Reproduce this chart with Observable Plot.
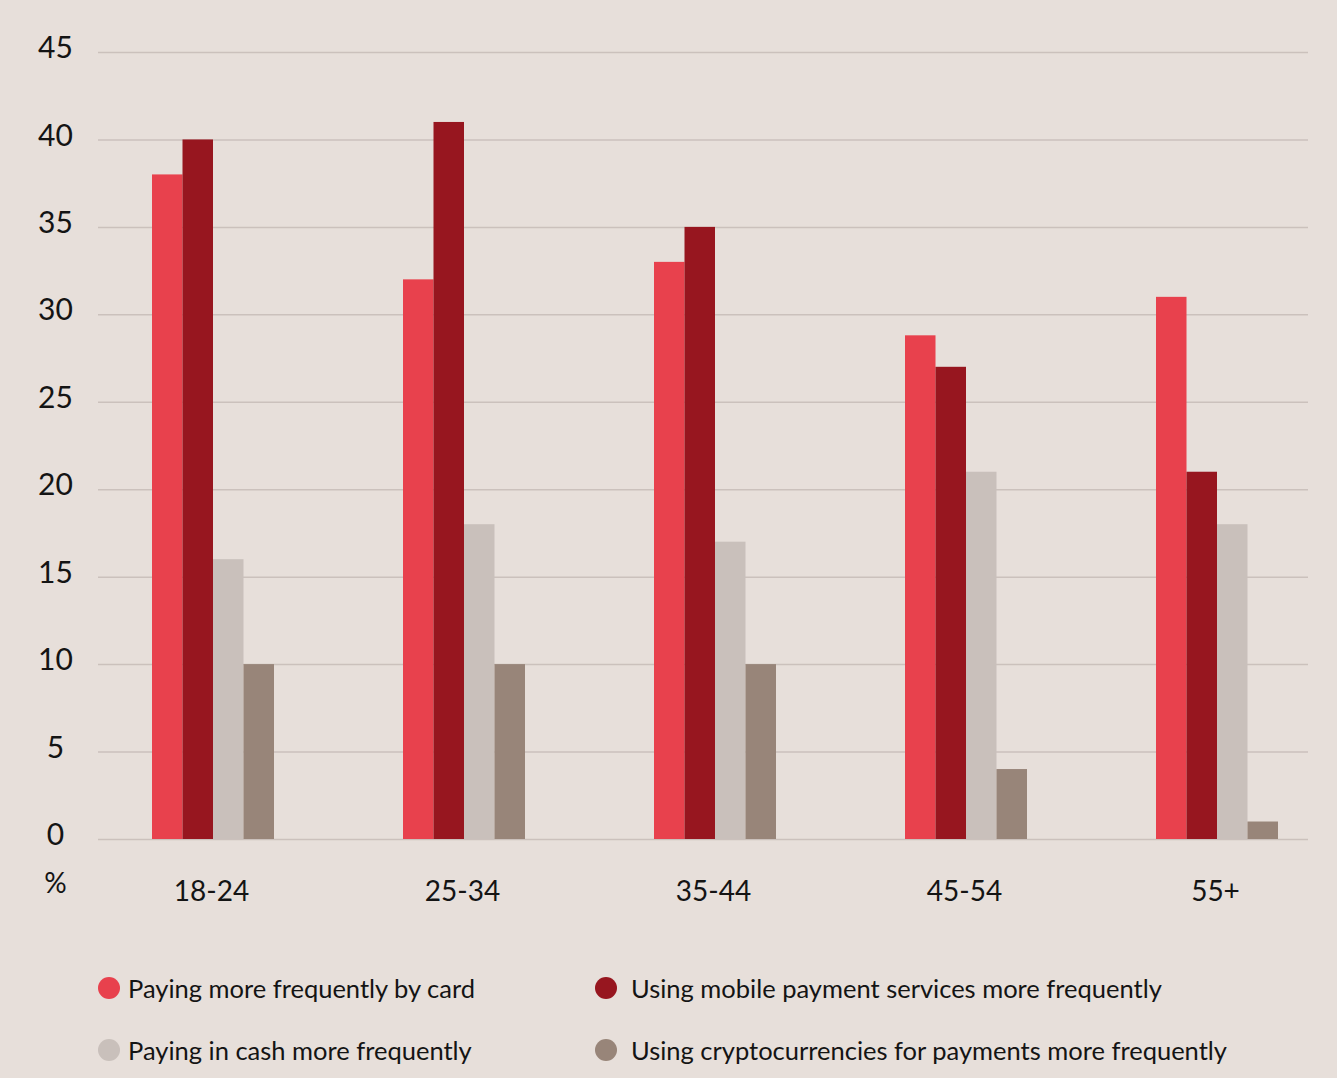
<!DOCTYPE html>
<html>
<head>
<meta charset="utf-8">
<script src="https://cdn.jsdelivr.net/npm/d3@7"></script>
<script src="https://cdn.jsdelivr.net/npm/@observablehq/plot@0.6"></script>
<style>
  html, body { margin: 0; padding: 0; background: #e7dfda; }
  body { width: 1337px; height: 1078px; overflow: hidden; font-family: Lato, "Noto Sans", sans-serif; color: #141414; }
  #chart svg { display: block; }
  .legend { position: relative; height: 148px; }
  .item { position: absolute; display: flex; align-items: center; font-size: 25.5px; white-space: nowrap; }
  .dot { width: 22px; height: 22px; border-radius: 50%; flex: none; }
</style>
</head>
<body>
<div id="chart"></div>
<div class="legend" id="legend"></div>
<script>
const groups = ["18-24", "25-34", "35-44", "45-54", "55+"];
const seriesNames = [
  "Paying more frequently by card",
  "Using mobile payment services more frequently",
  "Paying in cash more frequently",
  "Using cryptocurrencies for payments more frequently"
];
const cardValues = [38, 32, 33, 28.8, 31];
const mobileValues = [40, 41, 35, 27, 21];
const cashValues = [16, 18, 17, 21, 18];
const cryptoValues = [10, 10, 10, 4, 1];
const colors = ["#e8414d", "#97161f", "#c9c0bb", "#988579"];
const yTicks = [0, 5, 10, 15, 20, 25, 30, 35, 40, 45];

const seriesValues = [cardValues, mobileValues, cashValues, cryptoValues];
const data = seriesValues.flatMap((vals, k) =>
  groups.map((g, i) => ({group: g, series: seriesNames[k], value: vals[i]}))
);

const bandWidth = 122;
const sub = bandWidth / 4;

const barMarks = seriesNames.map((s, k) =>
  Plot.barY(data.filter(d => d.series === s), {
    x: "group", y: "value", fill: "series",
    insetLeft: k * sub, insetRight: (3 - k) * sub
  })
);

const chart = Plot.plot({
  width: 1337,
  height: 930,
  marginTop: 52,
  marginBottom: 91,
  marginLeft: 98,
  marginRight: 29,
  style: {background: "transparent", fontFamily: "Lato, 'Noto Sans', sans-serif", color: "#141414"},
  x: {type: "band", domain: groups, paddingInner: 0.514, paddingOuter: 0.165, align: 0.639, label: null},
  y: {domain: [0, 45], ticks: yTicks, label: null},
  color: {domain: seriesNames, range: colors},
  marks: [
    Plot.gridY(yTicks, {stroke: "#cbc1bc", strokeOpacity: 1, strokeWidth: 1.5}),
    ...barMarks,
    Plot.axisY(yTicks, {tickSize: 0, tickPadding: 0, textAnchor: "middle", dx: -43, dy: -4, fontSize: 30, fill: "#141414"}),
    Plot.axisX({tickSize: 0, tickPadding: 0, lineAnchor: "middle", dx: -2, dy: 53, fontSize: 28, fill: "#141414"}),
    Plot.text(["%"], {frameAnchor: "bottom-left", textAnchor: "middle", lineAnchor: "middle", dx: -43, dy: 45, fontSize: 28, fill: "#141414"})
  ]
});
document.getElementById("chart").appendChild(chart);

const legend = document.getElementById("legend");
const positions = [[98, 58, 8], [595, 58, 14], [98, 120, 8], [595, 120, 14]];
seriesNames.forEach((name, k) => {
  const el = document.createElement("div");
  el.className = "item";
  el.style.left = positions[k][0] + "px";
  el.style.top = (positions[k][1] - 18) + "px";
  el.style.height = "36px";
  const dot = document.createElement("span");
  dot.className = "dot";
  dot.style.background = colors[k];
  dot.style.marginRight = positions[k][2] + "px";
  const txt = document.createElement("span");
  txt.textContent = name;
  el.appendChild(dot);
  el.appendChild(txt);
  legend.appendChild(el);
});
</script>
</body>
</html>
